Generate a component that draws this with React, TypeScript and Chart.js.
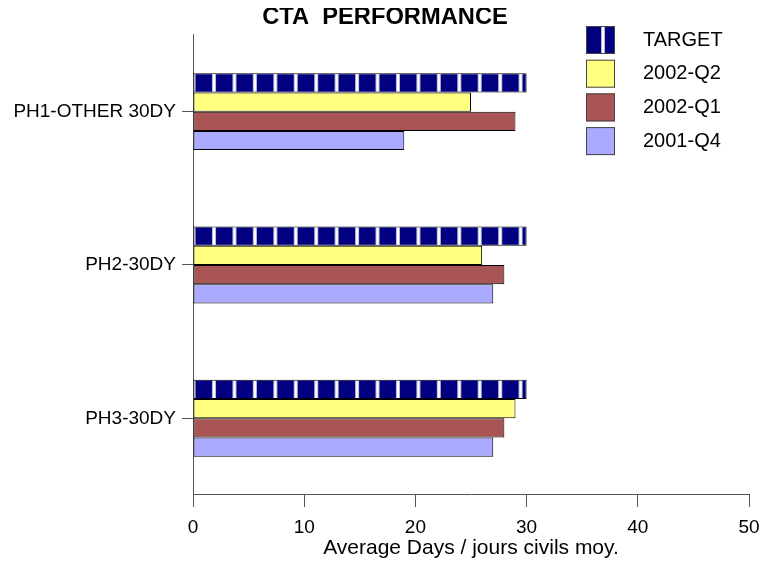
import React, { useEffect, useRef } from "react";
import { Chart, registerables } from "chart.js";

Chart.register(...registerables);

const categories = ["PH1-OTHER 30DY", "PH2-30DY", "PH3-30DY"];
const seriesNames = ["TARGET", "2002-Q2", "2002-Q1", "2001-Q4"];
const targetValues = [30, 30, 30];
const q2_2002Values = [25, 26, 29];
const q1_2002Values = [29, 28, 28];
const q4_2001Values = [19, 27, 27];
const xMin = 0;
const xMax = 50;
const xStep = 10;
const titleText = "CTA  PERFORMANCE";
const xAxisTitle = "Average Days / jours civils moy.";

const FONT = "'Liberation Sans', Arial, Helvetica, sans-serif";
const NAVY = "#000080";
const YELLOW = "#FFFF80";
const RED = "#AA5555";
const BLUE = "#AAAAFF";

function makeStripePattern(ctx: CanvasRenderingContext2D): CanvasPattern | string {
  const tile = document.createElement("canvas");
  tile.width = 20;
  tile.height = 4;
  const t = tile.getContext("2d");
  if (!t) return NAVY;
  t.fillStyle = NAVY;
  t.fillRect(0, 0, 20, 4);
  t.fillStyle = "#b8b8d8";
  t.fillRect(8, 0, 1, 4);
  t.fillRect(11, 0, 1, 4);
  t.fillStyle = "#ffffff";
  t.fillRect(9, 0, 2, 4);
  const p = ctx.createPattern(tile, "repeat");
  if (!p) return NAVY;
  try {
    p.setTransform(new DOMMatrix([1.022, 0, 0, 1, 11.8, 0]));
  } catch (e) {
    /* ignore */
  }
  return p;
}

const legendPlugin = {
  id: "customLegend",
  afterDraw(chart: any) {
    const ctx: CanvasRenderingContext2D = chart.ctx;
    const boxX = 578;
    const boxW = 29;
    const boxH = 28;
    const top0 = 18;
    const gap = 33.7;
    ctx.save();
    chart.data.datasets.forEach((ds: any, i: number) => {
      const y = top0 + gap * i;
      ctx.fillStyle = i === 0 ? NAVY : ds.backgroundColor;
      ctx.fillRect(boxX, y, boxW, boxH);
      if (i === 0) {
        ctx.fillStyle = "#b8b8d8";
        ctx.fillRect(boxX + 15, y, 1, boxH);
        ctx.fillRect(boxX + 18, y, 1, boxH);
        ctx.fillStyle = "#ffffff";
        ctx.fillRect(boxX + 16, y, 2, boxH);
      }
      ctx.strokeStyle = "#444";
      ctx.lineWidth = 1;
      ctx.strokeRect(boxX + 0.5, y + 0.5, boxW - 1, boxH - 1);
      ctx.fillStyle = "#000";
      ctx.font = `20px ${FONT}`;
      ctx.textBaseline = "middle";
      ctx.textAlign = "left";
      ctx.fillText(ds.label, 635, y + boxH / 2);
    });
    ctx.restore();
  },
};

export default function App() {
  const ref = useRef<HTMLCanvasElement | null>(null);

  useEffect(() => {
    const canvas = ref.current;
    if (!canvas) return;
    const ctx = canvas.getContext("2d");
    if (!ctx) return;
    const stripe = makeStripePattern(ctx);
    const colors = [stripe, YELLOW, RED, BLUE];
    const values = [targetValues, q2_2002Values, q1_2002Values, q4_2001Values];

    const chart = new Chart(canvas, {
      type: "bar",
      data: {
        labels: categories,
        datasets: seriesNames.map((name, i) => ({
          label: name,
          data: values[i],
          backgroundColor: colors[i] as any,
          borderColor: "#000",
          borderWidth: 1,
          borderSkipped: false,
          categoryPercentage: 0.502,
          barPercentage: 1,
        })),
      },
      options: {
        indexAxis: "y",
        animation: false,
        responsive: false,
        maintainAspectRatio: false,
        layout: { padding: { left: 0, right: 0, top: 0, bottom: 0 } },
        plugins: {
          legend: { display: false },
          tooltip: { enabled: false },
          title: {
            display: true,
            text: titleText,
            color: "#000",
            font: { family: FONT, size: 23.7, weight: "bold", lineHeight: 0.8 },
            padding: { top: 0, bottom: 8 },
          },
        },
        scales: {
          x: {
            type: "linear",
            min: xMin,
            max: xMax,
            ticks: {
              stepSize: xStep,
              color: "#000",
              font: { family: FONT, size: 19 },
              padding: 9,
            },
            grid: {
              display: true,
              drawOnChartArea: false,
              drawTicks: true,
              tickLength: 12,
              color: "#555",
            },
            border: { display: true, color: "#555", width: 1 },
            title: {
              display: true,
              text: xAxisTitle,
              color: "#000",
              font: { family: FONT, size: 21 },
              padding: { top: 0, bottom: 0 },
            },
            afterFit: (scale: any) => {
              scale.height = 66;
              scale.paddingLeft = 0;
              scale.paddingRight = 13;
            },
          },
          y: {
            type: "category",
            ticks: {
              color: "#000",
              font: { family: FONT, size: 19 },
              padding: 6,
            },
            grid: {
              display: true,
              offset: false,
              drawOnChartArea: false,
              drawTicks: true,
              tickLength: 11,
              color: "#555",
            },
            border: { display: true, color: "#555", width: 1 },
            afterFit: (scale: any) => {
              scale.width = 185;
              scale.paddingTop = 0;
              scale.paddingBottom = 0;
            },
          },
        },
      },
      plugins: [legendPlugin],
    });
    return () => chart.destroy();
  }, []);

  return (
    <div style={{ width: 754, height: 553, position: "relative" }}>
      <canvas ref={ref} width={754} height={553} style={{ width: 754, height: 553, display: "block" }} />
    </div>
  );
}
